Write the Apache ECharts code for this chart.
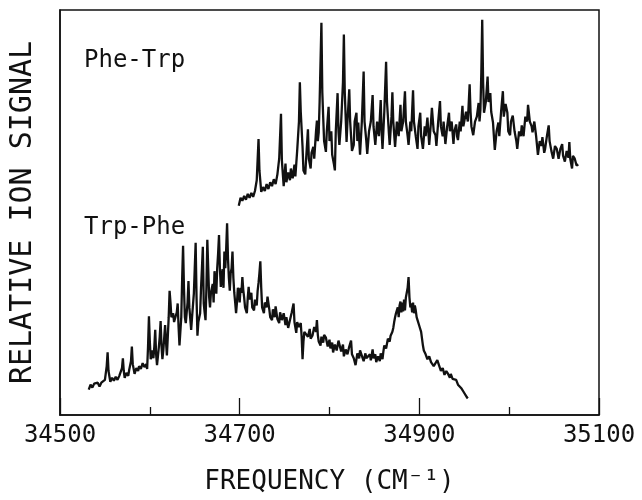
<!DOCTYPE html>
<html>
<head>
<meta charset="utf-8">
<script src="https://cdn.jsdelivr.net/npm/echarts@6/dist/echarts.min.js"></script>
<style>
  html, body { margin: 0; padding: 0; background: #fff; }
  #chart { width: 642px; height: 500px; }
</style>
</head>
<body>
<div id="chart"></div>
<script>
// [frequency (cm-1), relative ion signal]
const pheTrpData = [
  [34699, 214], [34701, 222], [34703, 219], [34705, 224], [34707, 220], [34709, 226], [34711, 222],
  [34713, 227], [34715, 223], [34717, 229], [34719, 240], [34721, 282], [34722, 250], [34724, 228],
  [34726, 233], [34728, 229], [34730, 236], [34732, 231], [34734, 238], [34736, 234], [34738, 241],
  [34740, 236], [34742, 246], [34744, 262], [34746, 308], [34747, 260], [34749, 234], [34751, 257],
  [34752, 238], [34754, 248], [34756, 240], [34757, 252], [34759, 242], [34761, 256], [34762, 244],
  [34764, 270], [34766, 300], [34767, 340], [34768, 310], [34770, 274], [34771, 250], [34773, 246],
  [34774, 262], [34776, 292], [34777, 262], [34779, 252], [34780, 268], [34782, 274], [34783, 262],
  [34785, 290], [34786, 301], [34787, 280], [34788, 289], [34789, 320], [34791, 401], [34792, 330],
  [34793, 304], [34794, 280], [34796, 269], [34797, 290], [34799, 315], [34800, 280], [34802, 290],
  [34803, 266], [34805, 256], [34806, 250], [34807, 290], [34809, 329], [34810, 290], [34811, 276],
  [34813, 300], [34815, 340], [34816, 389], [34817, 330], [34819, 279], [34820, 300], [34822, 333],
  [34823, 300], [34825, 270], [34827, 276], [34828, 300], [34830, 309], [34831, 280], [34832, 299],
  [34834, 266], [34836, 300], [34838, 351], [34839, 300], [34841, 280], [34842, 267], [34844, 290],
  [34846, 300], [34848, 327], [34849, 295], [34851, 276], [34853, 300], [34855, 285], [34857, 322],
  [34858, 290], [34859, 272], [34861, 310], [34863, 361], [34864, 320], [34866, 290], [34867, 276],
  [34869, 305], [34870, 330], [34871, 300], [34873, 274], [34875, 300], [34877, 285], [34879, 317],
  [34880, 290], [34882, 300], [34884, 331], [34885, 300], [34887, 285], [34888, 276], [34890, 300],
  [34891, 290], [34893, 332], [34894, 300], [34896, 285], [34898, 272], [34899, 295], [34901, 309],
  [34902, 285], [34904, 272], [34906, 295], [34907, 285], [34909, 304], [34910, 290], [34911, 276],
  [34913, 300], [34914, 314], [34916, 290], [34918, 286], [34919, 275], [34921, 300], [34923, 321],
  [34924, 295], [34926, 285], [34927, 300], [34929, 277], [34931, 295], [34933, 309], [34934, 290],
  [34936, 300], [34938, 277], [34939, 290], [34941, 297], [34942, 285], [34943, 281], [34945, 300],
  [34946, 290], [34948, 316], [34949, 295], [34951, 296], [34952, 310], [34954, 300], [34956, 338],
  [34957, 310], [34958, 295], [34960, 286], [34962, 300], [34964, 305], [34966, 319], [34967, 300],
  [34968, 312], [34969, 350], [34970, 404], [34971, 340], [34972, 309], [34974, 320], [34976, 346],
  [34977, 320], [34979, 329], [34980, 310], [34982, 299], [34983, 285], [34984, 271], [34986, 290],
  [34988, 299], [34989, 285], [34991, 310], [34993, 331], [34994, 305], [34996, 318], [34998, 309],
  [34999, 290], [35001, 286], [35002, 300], [35004, 306], [35006, 290], [35008, 280], [35009, 272],
  [35011, 290], [35013, 285], [35014, 296], [35016, 285], [35018, 305], [35020, 300], [35021, 317],
  [35023, 300], [35025, 295], [35026, 289], [35028, 300], [35029, 302], [35030, 285], [35032, 266],
  [35034, 280], [35036, 275], [35037, 284], [35039, 268], [35040, 272], [35042, 285], [35044, 296],
  [35045, 280], [35047, 270], [35049, 262], [35051, 275], [35053, 272], [35055, 262], [35057, 272],
  [35059, 277], [35060, 265], [35062, 259], [35064, 270], [35066, 263], [35067, 279], [35068, 262],
  [35070, 252], [35071, 265], [35073, 262], [35075, 255], [35077, 256]
];

const trpPheData = [
  [34532, 26], [34534, 31], [34536, 28], [34538, 32], [34540, 30], [34542, 33], [34544, 29],
  [34546, 33], [34548, 31], [34550, 36], [34552, 50], [34553, 64], [34554, 45], [34556, 34],
  [34558, 38], [34560, 35], [34562, 39], [34564, 36], [34566, 40], [34568, 42], [34569, 48],
  [34570, 58], [34571, 45], [34572, 38], [34574, 43], [34576, 40], [34577, 46], [34579, 55],
  [34580, 70], [34581, 52], [34583, 42], [34585, 48], [34587, 45], [34588, 50], [34590, 47],
  [34592, 53], [34594, 49], [34596, 52], [34597, 47], [34598, 70], [34599, 101], [34600, 75],
  [34601, 57], [34602, 62], [34603, 66], [34604, 58], [34605, 70], [34606, 87], [34607, 62],
  [34608, 51], [34609, 60], [34610, 69], [34611, 80], [34612, 96], [34613, 70], [34614, 57],
  [34615, 66], [34617, 92], [34618, 75], [34619, 61], [34620, 80], [34621, 100], [34622, 127],
  [34623, 115], [34624, 100], [34626, 104], [34627, 95], [34629, 94], [34630, 105], [34631, 114],
  [34632, 90], [34633, 71], [34635, 100], [34636, 140], [34637, 173], [34638, 130], [34639, 100],
  [34640, 94], [34642, 115], [34643, 137], [34644, 110], [34646, 87], [34647, 100], [34649, 124],
  [34650, 150], [34651, 176], [34652, 120], [34653, 81], [34654, 95], [34656, 104], [34657, 130],
  [34658, 150], [34659, 172], [34660, 114], [34661, 105], [34662, 97], [34663, 130], [34664, 179],
  [34665, 150], [34666, 121], [34667, 110], [34668, 125], [34670, 134], [34671, 115], [34672, 147],
  [34673, 135], [34674, 124], [34675, 150], [34676, 165], [34677, 184], [34678, 150], [34679, 131],
  [34680, 140], [34681, 149], [34682, 130], [34683, 167], [34684, 150], [34685, 170], [34686, 196],
  [34687, 160], [34688, 140], [34689, 127], [34690, 145], [34691, 150], [34692, 167], [34693, 140],
  [34694, 125], [34695, 115], [34696, 104], [34697, 115], [34698, 130], [34699, 127], [34700, 115],
  [34701, 130], [34702, 125], [34703, 141], [34704, 128], [34705, 120], [34706, 110], [34708, 104],
  [34709, 120], [34710, 131], [34711, 118], [34713, 125], [34714, 110], [34716, 107], [34717, 118],
  [34719, 112], [34720, 127], [34721, 135], [34722, 145], [34723, 157], [34724, 130], [34725, 110],
  [34727, 104], [34728, 115], [34730, 110], [34731, 121], [34733, 108], [34734, 100], [34736, 97],
  [34737, 108], [34739, 100], [34740, 111], [34742, 98], [34744, 94], [34745, 105], [34747, 97],
  [34749, 104], [34751, 92], [34752, 100], [34754, 89], [34756, 97], [34758, 105], [34760, 114],
  [34761, 95], [34763, 84], [34764, 95], [34766, 90], [34768, 94], [34769, 80], [34770, 57],
  [34771, 75], [34772, 85], [34774, 87], [34776, 80], [34778, 88], [34779, 78], [34781, 81],
  [34783, 90], [34785, 85], [34786, 97], [34787, 82], [34788, 75], [34790, 71], [34791, 80],
  [34793, 74], [34794, 82], [34796, 79], [34798, 70], [34800, 77], [34801, 68], [34803, 74],
  [34804, 64], [34806, 72], [34808, 66], [34810, 76], [34811, 74], [34813, 65], [34815, 72],
  [34816, 60], [34818, 67], [34820, 62], [34822, 70], [34824, 76], [34825, 62], [34827, 58],
  [34829, 51], [34831, 63], [34833, 58], [34834, 66], [34836, 64], [34838, 55], [34840, 63],
  [34841, 58], [34843, 57], [34845, 62], [34846, 56], [34848, 67], [34849, 58], [34851, 62],
  [34852, 54], [34854, 60], [34856, 55], [34857, 63], [34859, 57], [34860, 65], [34861, 71],
  [34863, 68], [34865, 78], [34867, 75], [34868, 81], [34870, 85], [34871, 89], [34872, 95],
  [34873, 100], [34874, 104], [34876, 110], [34877, 100], [34878, 112], [34879, 116], [34880, 105],
  [34881, 115], [34882, 106], [34883, 118], [34884, 107], [34885, 120], [34886, 125], [34887, 130],
  [34888, 141], [34889, 120], [34890, 110], [34891, 114], [34892, 105], [34893, 115], [34894, 104],
  [34895, 112], [34896, 107], [34897, 100], [34898, 97], [34899, 95], [34900, 91], [34902, 85],
  [34904, 71], [34905, 66], [34907, 62], [34909, 57], [34911, 60], [34913, 54], [34915, 56],
  [34916, 50], [34918, 49], [34920, 56], [34922, 56], [34924, 45], [34926, 48], [34928, 41],
  [34930, 45], [34932, 42], [34934, 38], [34935, 42], [34937, 37], [34939, 35], [34941, 36],
  [34943, 31], [34945, 33], [34947, 27], [34949, 24], [34951, 22], [34953, 18], [34954, 17]
];

const xTicks = [34500, 34700, 34900, 35100];
const traceLabels = ['Phe-Trp', 'Trp-Phe'];

const plotFont = '"DejaVu Sans Mono", monospace';

const chart = echarts.init(document.getElementById('chart'), null, { renderer: 'canvas' });

chart.setOption({
  animation: false,
  backgroundColor: '#fff',
  grid: {
    left: 59, right: 43, top: 10, bottom: 76,
    show: true,
    borderColor: '#111',
    borderWidth: 1.5
  },
  xAxis: {
    type: 'value',
    min: 34500,
    max: 35100,
    interval: 200,
    name: 'FREQUENCY (CM⁻¹)',
    nameLocation: 'middle',
    nameGap: 54,
    nameTextStyle: { fontFamily: plotFont, fontSize: 26, color: '#111' },
    axisLine: { show: true, lineStyle: { color: '#111', width: 1.5 } },
    axisTick: { show: true, inside: true, length: 17, lineStyle: { color: '#111', width: 1.3 } },
    minorTick: { show: true, splitNumber: 2, length: 8, lineStyle: { color: '#111', width: 1.3 } },
    splitLine: { show: false },
    axisLabel: {
      margin: 9,
      fontFamily: plotFont,
      fontSize: 24,
      color: '#111',
      formatter: (v) => xTicks.includes(v) ? String(v) : ''
    }
  },
  yAxis: {
    type: 'value',
    min: 0,
    max: 414,
    name: 'RELATIVE ION SIGNAL',
    nameLocation: 'middle',
    nameGap: 22,
    nameTextStyle: { fontFamily: plotFont, fontSize: 30, color: '#111' },
    axisLine: { show: true, lineStyle: { color: '#111', width: 1.5 } },
    axisTick: { show: false },
    axisLabel: { show: false },
    splitLine: { show: false }
  },
  graphic: [
    {
      type: 'text', left: 84, top: 49,
      style: { text: traceLabels[0], font: '24px ' + plotFont, fill: '#111' }
    },
    {
      type: 'text', left: 84, top: 216,
      style: { text: traceLabels[1], font: '24px ' + plotFont, fill: '#111' }
    }
  ],
  series: [
    {
      name: traceLabels[0],
      type: 'line',
      showSymbol: false,
      data: pheTrpData,
      lineStyle: { color: '#111', width: 2.3 }
    },
    {
      name: traceLabels[1],
      type: 'line',
      showSymbol: false,
      data: trpPheData,
      lineStyle: { color: '#111', width: 2.3 }
    }
  ]
});
</script>
</body>
</html>
